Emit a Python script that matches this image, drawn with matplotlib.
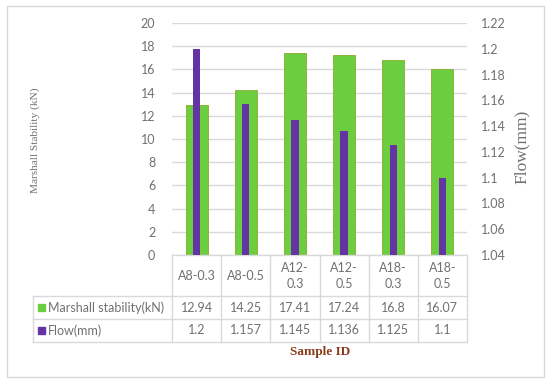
import matplotlib.pyplot as plt
import matplotlib.transforms as mtransforms
from matplotlib.patches import Rectangle
import numpy as np

samples = ['A8-0.3', 'A8-0.5', 'A12-0.3', 'A12-0.5', 'A18-0.3', 'A18-0.5']
header_labels = ['A8-0.3', 'A8-0.5', 'A12-\n0.3', 'A12-\n0.5', 'A18-\n0.3', 'A18-\n0.5']
marshall = [12.94, 14.25, 17.41, 17.24, 16.8, 16.07]
marshall_txt = ['12.94', '14.25', '17.41', '17.24', '16.8', '16.07']
flow = [1.2, 1.157, 1.145, 1.136, 1.125, 1.1]
flow_txt = ['1.2', '1.157', '1.145', '1.136', '1.125', '1.1']

W, H = 550, 381
green = '#6CCD3F'
purple = '#6434A4'
gray = '#707070'
grid = '#D9D9D9'

plt.rcParams['font.family'] = ['Lato', 'DejaVu Sans']

fig = plt.figure(figsize=(W / 100, H / 100), dpi=100)


def fy(py):
    return 1 - py / H


def fx(px):
    return px / W


ax = fig.add_axes([fx(172), fy(255), fx(467) - fx(172), fy(23) - fy(255)])
ax2 = ax.twinx()

x = np.arange(len(samples))
ax.bar(x, marshall, width=0.45, color=green, edgecolor='#8DB23C', linewidth=0.7, zorder=2)
ax2.bar(x, np.array(flow) - 1.04, bottom=1.04, width=0.15, color=purple, zorder=3)

ax.set_xlim(-0.5, len(samples) - 0.5)
ax.set_ylim(0, 20)
ax.set_yticks(np.arange(0, 21, 2))
ax2.set_ylim(1.04, 1.22)
ax2.set_yticks(np.round(np.arange(1.04, 1.2201, 0.02), 2))
ax2.set_yticklabels(['1.04', '1.06', '1.08', '1.1', '1.12', '1.14', '1.16', '1.18', '1.2', '1.22'])
ax.set_xticks([])
ax.yaxis.grid(True, color=grid, linewidth=1)
ax.set_axisbelow(True)
for a in (ax, ax2):
    for s in a.spines.values():
        s.set_visible(False)
    a.tick_params(length=0, labelsize=9, colors=gray)
ax.tick_params(axis='y', pad=12)
ax2.tick_params(axis='y', pad=10)

fig.text(fx(35), fy(140), 'Marshall Stability (kN)', rotation=90, ha='center', va='center',
         family='Liberation Serif', fontsize=8.2, color=gray)
fig.text(fx(522), fy(147), 'Flow(mm)', rotation=90, ha='center', va='center',
         family='Liberation Serif', fontsize=12.5, color=gray)
fig.text(fx(320), fy(352), 'Sample ID', ha='center', va='center',
         family='Liberation Serif', fontweight='bold', fontsize=9.5, color='#8B3A1A')

# data table below the axes
tr = mtransforms.blended_transform_factory(ax.transData, fig.transFigure)
lw = 1
edges = np.arange(len(samples) + 1) - 0.5
for e in edges:
    ax.plot([e, e], [fy(255), fy(342)], transform=tr, color=grid, lw=lw, clip_on=False)
ax.plot([-0.5, len(samples) - 0.5], [fy(255), fy(255)], transform=tr, color=grid, lw=lw, clip_on=False)
for yy in (296, 319, 342):
    fig.add_artist(plt.Line2D([fx(33), fx(467)], [fy(yy), fy(yy)], color=grid, lw=lw))
fig.add_artist(plt.Line2D([fx(33), fx(33)], [fy(296), fy(342)], color=grid, lw=lw))

for i, lab in enumerate(header_labels):
    ax.text(i, fy(276), lab, transform=tr, ha='center', va='center', fontsize=9, color=gray,
            linespacing=1.35)
for i in range(len(samples)):
    ax.text(i, fy(307.5), marshall_txt[i], transform=tr, ha='center', va='center', fontsize=9, color=gray)
    ax.text(i, fy(330.5), flow_txt[i], transform=tr, ha='center', va='center', fontsize=9, color=gray)

fig.add_artist(Rectangle((fx(38), fy(311)), fx(7), 7 / H, color=green, transform=fig.transFigure))
fig.add_artist(Rectangle((fx(38), fy(334)), fx(7), 7 / H, color=purple, transform=fig.transFigure))
fig.text(fx(48), fy(307.5), 'Marshall stability(kN)', ha='left', va='center', fontsize=9, color=gray)
fig.text(fx(48), fy(330.5), 'Flow(mm)', ha='left', va='center', fontsize=9, color=gray)

fig.add_artist(Rectangle((fx(7), fy(377)), fx(537), 371 / H, fill=False, edgecolor=grid,
                         lw=1, transform=fig.transFigure))

fig.savefig('out.png', dpi=100)
